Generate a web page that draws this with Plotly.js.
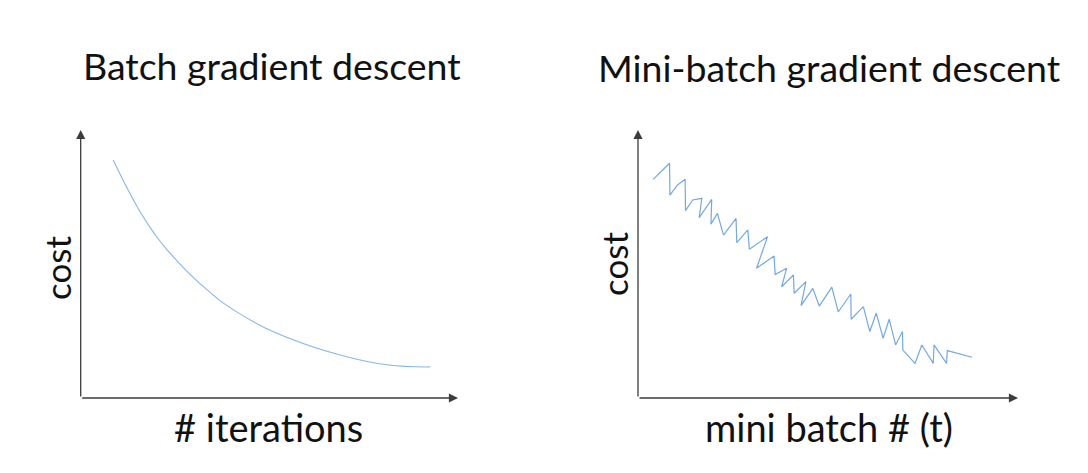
<!DOCTYPE html>
<html>
<head>
<meta charset="utf-8">
<script src="https://cdn.plot.ly/plotly-3.0.1.min.js"></script>
<style>html,body{margin:0;padding:0;background:#fff;}#chart{width:1088px;height:473px;}</style>
</head>
<body>
<div id="chart"></div>
<script>
// ---- Data ----
const panelTitles = ["Batch gradient descent", "Mini-batch gradient descent"];
const xLabels = ["# iterations", "mini batch # (t)"];
const yLabel = "cost";

// Left panel: smooth batch gradient descent cost curve
const batchX = [8.6, 12.2, 15.7, 19.2, 22.9, 31.6, 42.2, 56.3, 69.5, 81.2, 92.6];
const batchY = [88.8, 78.6, 69.6, 62.0, 55.3, 42.7, 31.4, 21.7, 15.8, 12.4, 11.6];

// Right panel: noisy mini-batch cost path (vertices in order)
const miniX = [4.0, 8.3, 8.4, 10.4, 12.4, 12.5, 14.4, 16.8, 16.1, 19.4, 19.2, 20.9, 22.5, 25.8, 26.0, 28.9,
               29.3, 34.1, 31.2, 35.8, 36.1, 39.1, 37.8, 40.9, 41.1, 44.2, 42.9, 46.0, 47.7, 51.0, 52.7, 56.0,
               56.1, 59.3, 61.0, 62.7, 64.5, 66.1, 67.8, 69.6, 69.7, 72.9, 74.7, 77.7, 77.9, 81.2, 81.4, 87.9];
const miniY = [81.6, 87.6, 75.7, 79.5, 81.6, 69.9, 73.9, 74.5, 67.3, 74.1, 64.9, 68.9, 60.8, 67.0, 58.0, 62.7,
               55.5, 60.2, 48.4, 53.0, 46.1, 48.4, 41.5, 45.9, 39.1, 43.4, 34.5, 40.9, 34.3, 41.4, 32.1, 38.8,
               29.4, 34.1, 24.8, 31.7, 22.3, 29.4, 19.8, 24.8, 17.9, 12.9, 19.8, 12.9, 19.8, 12.9, 17.7, 15.2];

// ---- Layout helpers ----
const W = 1088, H = 473;
const px = v => v / W;
const py = v => 1 - v / H;
const FONT = "Lato, 'Open Sans', sans-serif";
const axisColor = "#3c3c3c";

const hiddenAxis = (domain, anchor) => ({
  domain: domain, range: [0, 100], anchor: anchor,
  showgrid: false, zeroline: false, showticklabels: false, ticks: "", showline: false, fixedrange: true
});

const traces = [
  { x: batchX, y: batchY, xaxis: "x", yaxis: "y", mode: "lines",
    line: { color: "#86b6e6", width: 1.1, shape: "spline", smoothing: 1.3 }, hoverinfo: "skip" },
  { x: miniX, y: miniY, xaxis: "x2", yaxis: "y2", mode: "lines",
    line: { color: "#74a9df", width: 1.2 }, hoverinfo: "skip" }
];

function axisArrow(xr, yr, x, y, ax, ay) {
  return { xref: xr, yref: yr, axref: xr, ayref: yr, x: x, y: y, ax: ax, ay: ay, text: "",
           showarrow: true, arrowhead: 2, arrowsize: 1.4, arrowwidth: 1.3, arrowcolor: axisColor, standoff: 0 };
}
function label(text, x, y, size, angle) {
  return { xref: "paper", yref: "paper", x: px(x), y: py(y), xanchor: "center", yanchor: "middle",
           text: text, showarrow: false, textangle: angle || 0, font: { family: FONT, size: size, color: "#111" } };
}

const layout = {
  width: W, height: H, margin: { l: 0, r: 0, t: 0, b: 0 },
  paper_bgcolor: "#fff", plot_bgcolor: "#fff", showlegend: false,
  xaxis: hiddenAxis([px(80.7), px(458)], "y"),
  yaxis: hiddenAxis([py(398), py(130)], "x"),
  xaxis2: hiddenAxis([px(638), px(1018)], "y2"),
  yaxis2: hiddenAxis([py(398), py(130)], "x2"),
  annotations: [
    axisArrow("x", "y", 100, 0, 0, 0),
    axisArrow("x", "y", 0, 100, 0, 0),
    axisArrow("x2", "y2", 100, 0, 0, 0),
    axisArrow("x2", "y2", 0, 100, 0, 0),
    label(panelTitles[0], 272, 65, 37.5),
    label(panelTitles[1], 829, 68, 37.5),
    label(xLabels[0], 268, 427, 38),
    label(xLabels[1], 829, 427, 38),
    label(yLabel, 57, 268, 35, -90),
    label(yLabel, 614, 264, 35, -90)
  ]
};

Plotly.newPlot("chart", traces, layout, { staticPlot: true, displayModeBar: false });
</script>
</body>
</html>
